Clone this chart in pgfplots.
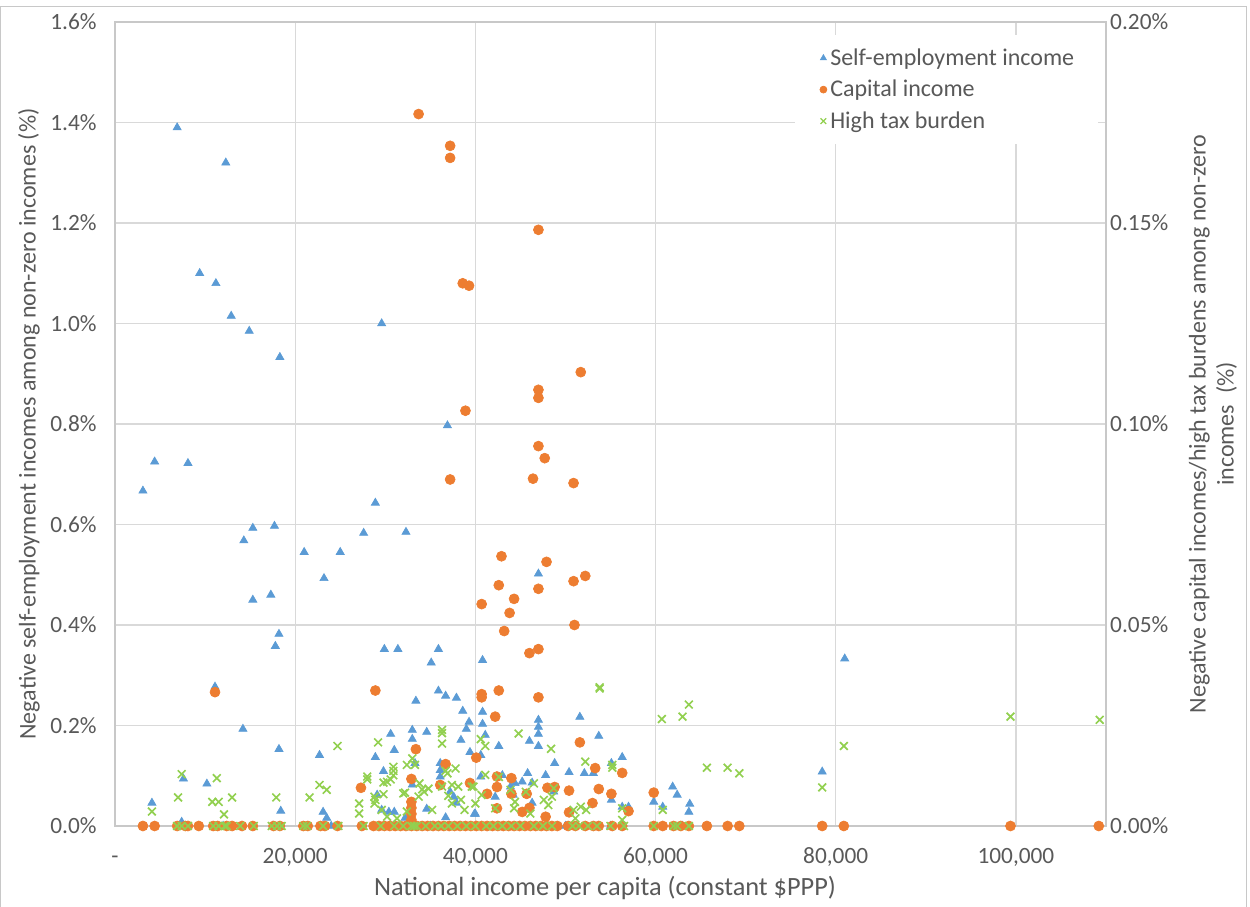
\documentclass[border=0pt]{standalone}
\usepackage{fontspec}
\setmainfont{Carlito}
\usepackage{pgfplots}
\usepackage{pgfplotstable}
\pgfplotsset{compat=1.18}
\definecolor{seblue}{HTML}{5B9BD5}
\definecolor{caporange}{HTML}{ED7D31}
\definecolor{taxgreen}{HTML}{92D050}
\definecolor{txt}{HTML}{595959}
\definecolor{gridc}{HTML}{D9D9D9}
\definecolor{axc}{HTML}{C8C8C8}

% x: national income per capita (thousand $PPP), y: share (%)
\pgfplotstableread{
x y
6.9 1.39
12.3 1.32
9.4 1.10
11.2 1.08
12.9 1.015
14.9 0.985
18.3 0.933
29.6 1.00
36.9 0.797
4.4 0.725
8.1 0.722
3.1 0.667
15.3 0.593
17.7 0.597
14.3 0.568
21.0 0.545
25.0 0.545
27.6 0.583
32.3 0.585
28.9 0.643
23.2 0.493
15.3 0.450
17.3 0.460
18.2 0.382
17.8 0.358
29.9 0.352
31.4 0.352
35.9 0.352
35.1 0.325
40.8 0.330
47.0 0.502
81.0 0.333
11.1 0.277
35.9 0.269
36.7 0.259
37.9 0.255
33.4 0.249
38.6 0.229
40.8 0.227
39.3 0.207
40.8 0.203
39.0 0.193
14.2 0.193
33.0 0.191
30.6 0.183
34.6 0.187
33.0 0.173
41.1 0.181
38.4 0.171
18.2 0.153
31.0 0.151
22.7 0.141
28.9 0.137
39.4 0.147
40.6 0.141
29.8 0.109
7.6 0.094
10.2 0.084
40.6 0.098
36.1 0.098
4.1 0.046
18.4 0.030
23.1 0.028
23.5 0.016
29.6 0.032
30.4 0.028
31.0 0.028
34.6 0.034
40.0 0.024
37.6 0.058
37.9 0.046
33.0 0.082
33.3 0.125
36.1 0.125
36.1 0.111
7.4 0.008
32.2 0.016
47.0 0.211
47.0 0.197
47.0 0.183
46.0 0.169
47.0 0.159
51.6 0.217
53.7 0.179
56.3 0.137
48.8 0.125
50.4 0.107
52.1 0.105
53.1 0.105
55.1 0.125
45.8 0.105
45.2 0.088
47.8 0.101
46.3 0.086
42.6 0.159
43.9 0.078
44.2 0.062
48.7 0.068
46.3 0.046
55.1 0.052
56.3 0.038
57.0 0.038
59.8 0.048
60.8 0.038
61.9 0.078
62.4 0.062
63.8 0.044
63.7 0.028
39.9 0.024
43.0 0.101
78.5 0.108
37.2 0.068
29.1 0.062
36.7 0.017
42.2 0.058
44.4 0.085
7.4 0
12.0 0
17.5 0
24.0 0
30.0 0
35.0 0
40.0 0
45.0 0
50.0 0
55.0 0
63.0 0
}\selfemp

\pgfplotstableread{
x y
33.7 0.1771
37.2 0.1692
37.2 0.1662
47.0 0.1483
38.6 0.1350
39.3 0.1344
51.7 0.1129
47.0 0.1085
47.0 0.1065
38.9 0.1033
47.0 0.0945
47.7 0.0915
37.2 0.0862
46.4 0.0864
50.9 0.0853
42.9 0.0671
47.9 0.0657
52.2 0.0622
50.9 0.0609
42.6 0.0599
47.0 0.0590
44.3 0.0565
40.7 0.0552
43.8 0.0530
43.2 0.0485
51.0 0.0500
47.0 0.0440
46.0 0.0430
11.1 0.0333
28.9 0.0337
40.7 0.0328
40.7 0.0320
42.6 0.0337
47.0 0.0320
42.2 0.0272
51.6 0.0208
33.4 0.0191
40.1 0.0170
36.7 0.0154
53.3 0.0144
56.3 0.0132
32.9 0.0117
36.1 0.0102
39.4 0.0107
27.3 0.0095
42.4 0.0123
42.4 0.0097
44.0 0.0119
48.0 0.0095
48.8 0.0097
50.4 0.0088
53.7 0.0092
55.1 0.0080
44.0 0.0080
45.7 0.0080
41.3 0.0080
53.0 0.0057
57.0 0.0037
45.2 0.0035
46.0 0.0045
50.4 0.0034
59.8 0.0083
47.8 0.0023
42.4 0.0044
32.9 0.0060
32.9 0.0045
32.9 0.0030
32.9 0.0015
3.1 0
4.4 0
6.9 0
7.8 0
8.1 0
9.3 0
10.9 0
11.4 0
12.4 0
13.0 0
14.1 0
15.3 0
17.6 0
18.3 0
20.9 0
21.4 0
22.8 0
23.3 0
24.7 0
27.4 0
28.7 0
29.3 0
29.9 0
30.5 0
31.1 0
31.7 0
32.3 0
32.9 0
33.5 0
34.1 0
34.7 0
35.3 0
35.9 0
36.5 0
37.1 0
37.7 0
38.3 0
38.9 0
39.5 0
40.1 0
40.7 0
41.3 0
41.9 0
42.5 0
43.1 0
43.7 0
44.3 0
44.9 0
45.5 0
46.1 0
46.7 0
47.3 0
47.9 0
48.5 0
49.1 0
50.3 0
51.1 0
52.2 0
53.1 0
53.7 0
55.2 0
56.3 0
59.8 0
60.8 0
62.0 0
62.8 0
63.7 0
65.7 0
68.0 0
69.3 0
78.5 0
80.9 0
99.4 0
109.2 0
}\capital

\pgfplotstableread{
x y
4.1 0.0036
7.0 0.0071
7.4 0.0129
11.3 0.0119
10.8 0.0060
11.5 0.0060
12.1 0.0029
13.0 0.0071
17.9 0.0071
21.6 0.0071
22.7 0.0102
23.5 0.0090
24.7 0.0199
27.1 0.0056
27.1 0.0031
28.0 0.0123
28.0 0.0116
29.2 0.0208
28.8 0.0073
28.8 0.0056
29.8 0.0108
30.6 0.0116
30.9 0.0147
30.9 0.0137
30.9 0.0126
32.0 0.0081
32.4 0.0152
36.3 0.0239
36.3 0.0231
36.3 0.0205
37.8 0.0143
40.6 0.0216
41.1 0.0199
29.8 0.0079
33.0 0.0168
33.3 0.0152
32.4 0.0036
33.8 0.0106
34.3 0.0085
33.7 0.0073
34.8 0.0093
35.2 0.0040
36.3 0.0098
36.7 0.0137
37.0 0.0075
37.4 0.0056
38.1 0.0098
38.4 0.0065
38.8 0.0040
39.8 0.0098
40.0 0.0056
29.6 0.0040
30.2 0.0023
31.3 0.0019
28.9 0.0065
30.2 0.0110
32.2 0.0083
34.1 0.0091
36.9 0.0131
37.4 0.0102
39.6 0.0098
40.7 0.0077
41.1 0.0127
42.6 0.0122
42.2 0.0044
43.9 0.0090
44.4 0.0060
44.8 0.0230
48.4 0.0192
52.2 0.0160
55.2 0.0152
55.2 0.0145
46.5 0.0106
48.7 0.0094
45.6 0.0085
47.6 0.0065
48.5 0.0073
48.1 0.0052
44.3 0.0044
46.1 0.0031
50.9 0.0040
51.7 0.0048
52.3 0.0040
51.1 0.0019
56.3 0.0044
56.3 0.0015
53.8 0.0342
53.8 0.0345
60.7 0.0266
60.8 0.0040
63.7 0.0302
63.0 0.0272
65.7 0.0145
68.0 0.0145
69.3 0.0131
78.5 0.0096
80.9 0.0199
99.4 0.0272
109.3 0.0264
6.9 0
7.4 0
8.1 0
10.9 0
11.5 0
12.2 0
12.4 0
13.9 0
15.4 0
17.4 0
18.0 0
18.5 0
20.9 0
21.3 0
23.1 0
24.8 0
27.6 0
29.5 0
31.0 0
32.0 0
32.9 0
33.2 0
33.5 0
34.5 0
35.5 0
36.2 0
37.0 0
38.0 0
39.0 0
40.0 0
41.2 0
42.0 0
43.0 0
44.0 0
45.0 0
46.5 0
47.5 0
48.5 0
50.8 0
51.5 0
52.5 0
53.5 0
55.0 0
56.5 0
59.8 0
62.0 0
62.4 0
63.7 0
}\taxburden

\newcommand{\chartfont}{\fontsize{14}{16.8}\selectfont}
\newcommand{\titlefont}{\fontsize{14.4}{16.8}\selectfont}

\begin{document}
\begin{tikzpicture}
\begin{scope}[x=0.6pt,y=0.6pt]
\path[use as bounding box] (0,0) rectangle (1250,907);
\draw[axc, line width=0.6pt] (1,-20) -- (1,900) -- (1246,900) -- (1246,-20);
\end{scope}

\pgfplotsset{
  base/.style={
    scale only axis, width=594.6pt, height=482.4pt,
    at={(69pt,48.6pt)}, anchor=south west,
    xmin=0, xmax=110, clip=false,
    major tick length=0pt,
    tick label style={font=\chartfont, text=txt},
    axis line style={axc, line width=0.75pt},
  }
}

\begin{axis}[base,
  ymin=0, ymax=1.6,
  xtick={0,20,40,60,80,100},
  xticklabels={-,{20,000},{40,000},{60,000},{80,000},{100,000}},
  xticklabel style={yshift=-10pt, text height=8.8pt, text depth=0pt},
  ytick={0,0.2,0.4,0.6,0.8,1.0,1.2,1.4,1.6},
  yticklabels={0.0\%,0.2\%,0.4\%,0.6\%,0.8\%,1.0\%,1.2\%,1.4\%,1.6\%},
  yticklabel style={xshift=-7.5pt},
  grid=major, major grid style={gridc, line width=0.75pt},
]
\addplot[only marks, mark=triangle*, mark size=2.8pt, color=seblue] table {\selfemp};
\end{axis}

\begin{axis}[base,
  axis x line=none, axis y line*=right,
  ymin=0, ymax=0.2,
  ytick={0,0.05,0.1,0.15,0.2},
  yticklabels={0.00\%,0.05\%,0.10\%,0.15\%,0.20\%},
  yticklabel style={xshift=-1pt},
  legend style={at={(0.686,0.984)}, anchor=north west, draw=none, fill=white,
    font=\titlefont, text=txt, row sep=3.4pt, inner xsep=12pt, inner ysep=6pt,
    cells={anchor=west}},
  legend image code/.code={\path (0cm,0cm) (0.22cm,0cm); \draw[#1] plot coordinates {(0.16cm,0cm)};},
]
\addlegendimage{only marks, mark=triangle*, mark size=2.1pt, color=seblue}
\addlegendentry{Self-employment income\hspace{3pt}}
\addlegendimage{only marks, mark=*, mark size=2.1pt, color=caporange}
\addlegendentry{Capital income}
\addlegendimage{only marks, mark=x, mark size=2.4pt, line width=0.8pt, color=taxgreen}
\addlegendentry{High tax burden}
\addplot[only marks, mark=*, mark size=3pt, color=caporange, forget plot] table {\capital};
\addplot[only marks, mark=x, mark size=3.3pt, line width=1pt, color=taxgreen, forget plot] table {\taxburden};
\end{axis}

\begin{scope}[x=0.6pt,y=0.6pt]
\node[rotate=90, text=txt, font=\titlefont] at (29,483) {Negative self-employment incomes among non-zero incomes (\%)};
\node[rotate=90, text=txt, font=\titlefont, align=center] at (1213,483) {Negative capital incomes/high tax burdens among non-zero\\incomes\ \ (\%)};
\node[text=txt, font=\fontsize{15.8}{18}\selectfont, anchor=base] at (605,11) {National income per capita (constant \$PPP)};
\end{scope}
\end{tikzpicture}
\end{document}
